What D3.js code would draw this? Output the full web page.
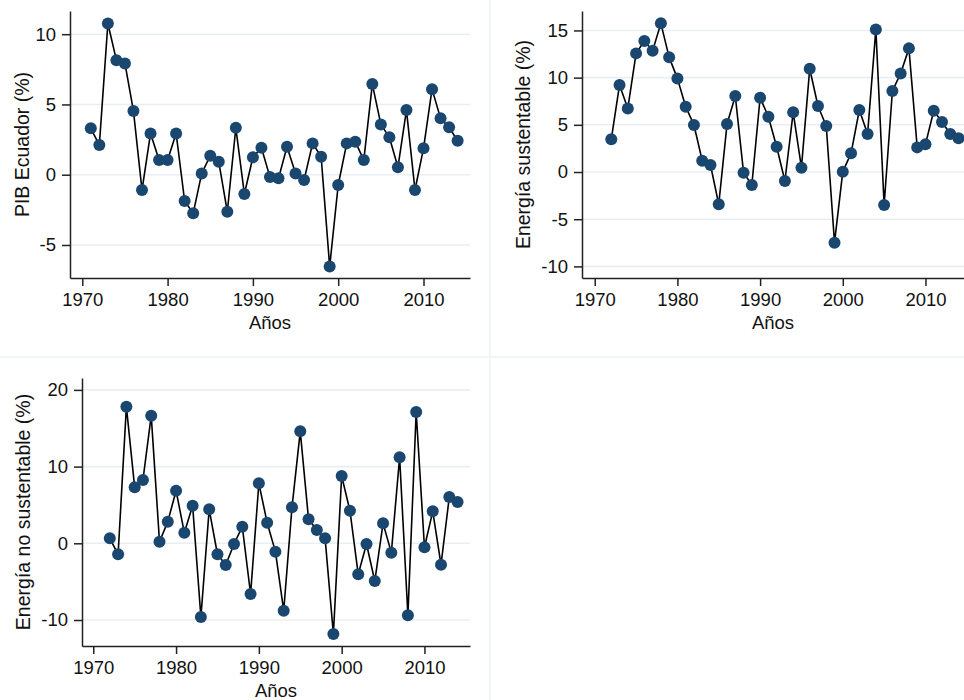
<!DOCTYPE html>
<html>
<head>
<meta charset="utf-8">
<script src="https://cdn.jsdelivr.net/npm/d3@7"></script>
<style>
  body { margin: 0; background: #fff; }
  svg { display: block; font-family: Arial, "Liberation Sans", Helvetica, sans-serif; }
</style>
</head>
<body>
<script>
// years
const yearsPib = [1971, 1972, 1973, 1974, 1975, 1976, 1977, 1978, 1979, 1980,
  1981, 1982, 1983, 1984, 1985, 1986, 1987, 1988, 1989, 1990,
  1991, 1992, 1993, 1994, 1995, 1996, 1997, 1998, 1999, 2000,
  2001, 2002, 2003, 2004, 2005, 2006, 2007, 2008, 2009, 2010,
  2011, 2012, 2013, 2014]
const yearsEnergia = [1972, 1973, 1974, 1975, 1976, 1977, 1978, 1979, 1980,
  1981, 1982, 1983, 1984, 1985, 1986, 1987, 1988, 1989, 1990,
  1991, 1992, 1993, 1994, 1995, 1996, 1997, 1998, 1999, 2000,
  2001, 2002, 2003, 2004, 2005, 2006, 2007, 2008, 2009, 2010,
  2011, 2012, 2013, 2014]

// series (%)
const pibEcuador = [3.30, 2.11, 10.76, 8.15, 7.92, 4.53, -1.09, 2.94, 1.04, 1.04,
  2.94, -1.87, -2.75, 0.09, 1.35, 0.92, -2.63, 3.34, -1.37, 1.24,
  1.92, -0.17, -0.26, 1.99, 0.09, -0.38, 2.23, 1.28, -6.54, -0.73,
  2.23, 2.35, 1.04, 6.45, 3.58, 2.66, 0.53, 4.60, -1.09, 1.88,
  6.09, 4.01, 3.37, 2.42]
const energiaSustentable = [3.46, 9.22, 6.74, 12.57, 13.88, 12.85, 15.75, 12.15, 9.92,
  6.92, 4.98, 1.20, 0.74, -3.42, 5.08, 8.05, -0.07, -1.38, 7.87,
  5.86, 2.68, -0.95, 6.32, 0.46, 10.94, 6.99, 4.87, -7.49, 0.04,
  1.98, 6.57, 4.03, 15.11, -3.50, 8.58, 10.45, 13.10, 2.61, 2.93,
  6.49, 5.30, 4.03, 3.57]
const energiaNoSustentable = [0.65, -1.43, 17.81, 7.30, 8.25, 16.64, 0.21, 2.82, 6.86,
  1.38, 4.90, -9.61, 4.43, -1.43, -2.83, -0.09, 2.17, -6.61, 7.82,
  2.69, -1.09, -8.79, 4.69, 14.60, 3.13, 1.73, 0.65, -11.83, 8.77,
  4.25, -4.04, -0.09, -4.92, 2.60, -1.22, 11.21, -9.39, 17.12, -0.52,
  4.17, -2.79, 6.04, 5.38]

// tick labels
const xTicks = [1970, 1980, 1990, 2000, 2010]
const yTicksPib = [-5, 0, 5, 10]
const yTicksSust = [-10, -5, 0, 5, 10, 15]
const yTicksNoSust = [-10, 0, 10, 20]

const xTitle = "Años"

const W = 964, H = 700
const svg = d3.select("body").append("svg").attr("width", W).attr("height", H)

// faint panel separators
svg.append("line").attr("x1", 490).attr("x2", 490).attr("y1", 0).attr("y2", H)
  .attr("stroke", "#edf2f5").attr("stroke-width", 1.5)
svg.append("line").attr("x1", 0).attr("x2", W).attr("y1", 357).attr("y2", 357)
  .attr("stroke", "#edf2f5").attr("stroke-width", 1.5)

const panels = [
  { years: yearsPib, values: pibEcuador, title: "PIB Ecuador (%)", yTicks: yTicksPib,
    left: 70, right: 470, top: 11, bottom: 278, xDom: [1968.56, 2015.45], yDom: [-7.35, 11.65], titleX: 22 },
  { years: yearsEnergia, values: energiaSustentable, title: "Energía sustentable (%)", yTicks: yTicksSust,
    left: 582, right: 964, top: 11, bottom: 278, xDom: [1968.46, 2014.66], yDom: [-11.23, 17.06], titleX: 523 },
  { years: yearsEnergia, values: energiaNoSustentable, title: "Energía no sustentable (%)", yTicks: yTicksNoSust,
    left: 82, right: 470, top: 378, bottom: 646, xDom: [1968.64, 2015.5], yDom: [-13.39, 21.55], titleX: 23 }
]

panels.forEach(p => drawPanel(p))

function drawPanel(p) {
  const x = d3.scaleLinear().domain(p.xDom).range([p.left, p.right])
  const y = d3.scaleLinear().domain(p.yDom).range([p.bottom, p.top])
  const g = svg.append("g")

  // gridlines
  g.append("g").selectAll("line").data(p.yTicks).join("line")
    .attr("x1", p.left).attr("x2", p.right)
    .attr("y1", d => y(d)).attr("y2", d => y(d))
    .attr("stroke", "#e8eff3").attr("stroke-width", 1.6)

  const pts = p.years.map((yr, i) => [yr, p.values[i]])
  const line = d3.line().x(d => x(d[0])).y(d => y(d[1]))
  g.append("path").datum(pts)
    .attr("d", line)
    .attr("fill", "none")
    .attr("stroke", "#000")
    .attr("stroke-width", 1.6)
    .attr("stroke-linejoin", "round")

  g.append("g").selectAll("circle").data(pts).join("circle")
    .attr("cx", d => x(d[0])).attr("cy", d => y(d[1]))
    .attr("r", 6)
    .attr("fill", "#1a476f")

  // plain hyphen for negatives, as in the original
  const fmt = d => String(d)
  const yAxis = g.append("g").attr("transform", `translate(${p.left},0)`)
    .call(d3.axisLeft(y).tickValues(p.yTicks).tickFormat(fmt).tickSize(8).tickPadding(6).tickSizeOuter(0))
  const xAxis = g.append("g").attr("transform", `translate(0,${p.bottom})`)
    .call(d3.axisBottom(x).tickValues(xTicks).tickFormat(fmt).tickSize(8).tickPadding(7).tickSizeOuter(0))
  ;[yAxis, xAxis].forEach(a => {
    a.select(".domain").attr("stroke", "#222").attr("stroke-width", 1.5)
    a.selectAll(".tick line").attr("stroke", "#222").attr("stroke-width", 1.5)
    a.selectAll(".tick text").attr("fill", "#111").attr("font-size", 18.5).attr("font-family", null)
  })

  g.append("text")
    .attr("transform", `translate(${p.titleX},${(p.top + p.bottom) / 2}) rotate(-90)`)
    .attr("text-anchor", "middle")
    .attr("dominant-baseline", "central")
    .attr("font-size", 19.5)
    .attr("fill", "#111")
    .text(p.title)

  g.append("text")
    .attr("x", (p.left + Math.min(p.right, 964)) / 2)
    .attr("y", p.bottom + 51)
    .attr("text-anchor", "middle")
    .attr("font-size", 18.5)
    .attr("fill", "#111")
    .text(xTitle)
}
</script>
</body>
</html>
